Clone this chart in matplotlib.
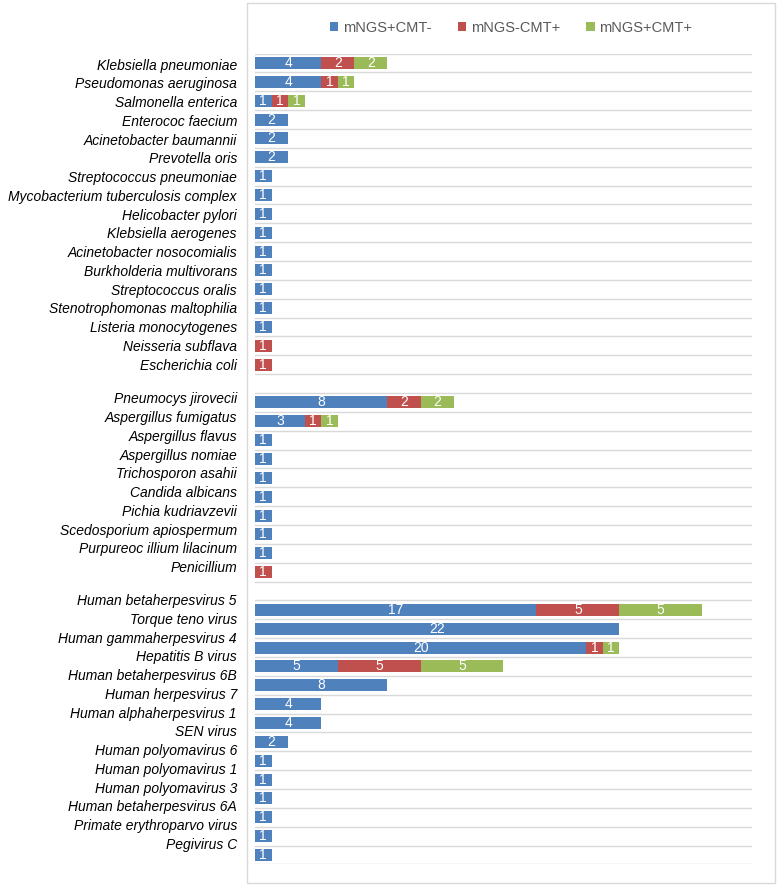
#horizontal stacked bar chart of pathogens detected by mNGS vs conventional methods (CMT)
import numpy as np
import matplotlib.pyplot as plt
from matplotlib.patches import Rectangle

plt.rcParams["font.family"] = ["Liberation Sans", "DejaVu Sans"]

#pathogen names, grouped (bacteria, fungi, viruses)
bacteria = ["Klebsiella pneumoniae", "Pseudomonas aeruginosa", "Salmonella enterica",
            "Enterococ faecium", "Acinetobacter baumannii", "Prevotella oris",
            "Streptococcus pneumoniae", "Mycobacterium tuberculosis complex",
            "Helicobacter pylori", "Klebsiella aerogenes", "Acinetobacter nosocomialis",
            "Burkholderia multivorans", "Streptococcus oralis",
            "Stenotrophomonas maltophilia", "Listeria monocytogenes",
            "Neisseria subflava", "Escherichia coli"]
fungi = ["Pneumocys jirovecii", "Aspergillus fumigatus", "Aspergillus flavus",
         "Aspergillus nomiae", "Trichosporon asahii", "Candida albicans",
         "Pichia kudriavzevii", "Scedosporium apiospermum",
         "Purpureoc illium lilacinum", "Penicillium"]
viruses = ["Human betaherpesvirus 5", "Torque teno virus", "Human gammaherpesvirus 4",
           "Hepatitis B virus", "Human betaherpesvirus 6B", "Human herpesvirus 7",
           "Human alphaherpesvirus 1", "SEN virus", "Human polyomavirus 6",
           "Human polyomavirus 1", "Human polyomavirus 3", "Human betaherpesvirus 6A",
           "Primate erythroparvo virus", "Pegivirus C"]

#counts per group: mNGS+CMT-, mNGS-CMT+, mNGS+CMT+
bac_pos_neg = [4, 4, 1, 2, 2, 2, 1, 1, 1, 1, 1, 1, 1, 1, 1, 0, 0]
bac_neg_pos = [2, 1, 1, 0, 0, 0, 0, 0, 0, 0, 0, 0, 0, 0, 0, 1, 1]
bac_pos_pos = [2, 1, 1, 0, 0, 0, 0, 0, 0, 0, 0, 0, 0, 0, 0, 0, 0]

fun_pos_neg = [8, 3, 1, 1, 1, 1, 1, 1, 1, 0]
fun_neg_pos = [2, 1, 0, 0, 0, 0, 0, 0, 0, 1]
fun_pos_pos = [2, 1, 0, 0, 0, 0, 0, 0, 0, 0]

vir_pos_neg = [17, 22, 20, 5, 8, 4, 4, 2, 1, 1, 1, 1, 1, 1]
vir_neg_pos = [5, 0, 1, 5, 0, 0, 0, 0, 0, 0, 0, 0, 0, 0]
vir_pos_pos = [5, 0, 1, 5, 0, 0, 0, 0, 0, 0, 0, 0, 0, 0]

series_names = ["mNGS+CMT-", "mNGS-CMT+", "mNGS+CMT+"]
colors = ["#4f81bd", "#c0504d", "#9bbb59"]

#put a blank row between groups
gap = [np.nan]
s1 = np.array(bac_pos_neg + gap + fun_pos_neg + gap + vir_pos_neg, dtype=float)
s2 = np.array(bac_neg_pos + gap + fun_neg_pos + gap + vir_neg_pos, dtype=float)
s3 = np.array(bac_pos_pos + gap + fun_pos_pos + gap + vir_pos_pos, dtype=float)
rows = np.arange(len(s1))

W, H = 777, 886
fig = plt.figure(figsize=(W / 100, H / 100), dpi=100)

#outer chart frame
fig.add_artist(Rectangle((247 / W, 3 / H), 528 / W, 880 / H, transform=fig.transFigure,
                         fill=False, edgecolor="#d9d9d9", linewidth=1))

ax_top, ax_bot = 53.6, 864.4
ax = fig.add_axes([255 / W, 1 - ax_bot / H, (751.7 - 255) / W, (ax_bot - ax_top) / H])
ax.set_xlim(0, 30)
ax.set_ylim(len(rows) - 0.5, -0.5)

left = np.zeros(len(rows))
for vals, name, c in zip([s1, s2, s3], series_names, colors):
    v = np.nan_to_num(vals)
    bars = ax.barh(rows, v, left=left, height=0.64, color=c, label=name)
    for r, val, l in zip(rows, v, left):
        if val > 0:
            ax.text(l + val / 2, r, str(int(val)), ha="center", va="center",
                    color="white", fontsize=10)
    left = left + v

#horizontal gridlines between rows
for y in np.arange(-0.5, len(rows), 1):
    ax.axhline(y, color="#d9d9d9", linewidth=1, zorder=0)
for s in ax.spines.values():
    s.set_visible(False)
ax.set_xticks([])
ax.set_yticks([])

#category labels column (slightly different spacing than the bars)
lab_ax = fig.add_axes(ax.get_position(), frameon=False)
lab_pos = (list(np.arange(len(bacteria)))
           + list(17.81 + np.arange(len(fungi)))
           + list(28.57 + np.arange(len(viruses))))
lab_ax.set_ylim((ax_bot - 64) / 18.75, (ax_top - 64) / 18.75)
lab_ax.set_xlim(0, 1)
lab_ax.set_xticks([])
lab_ax.set_yticks(lab_pos)
lab_ax.set_yticklabels(bacteria + fungi + viruses, fontsize=10, style="italic",
                       color="#000000")
lab_ax.tick_params(axis="y", length=0, pad=13)

handles, labels = ax.get_legend_handles_labels()
fig.legend(handles, labels, loc="center", bbox_to_anchor=(511 / W, 1 - 28 / H), ncol=3,
           frameon=False, fontsize=10.5, handlelength=0.6, handleheight=0.6,
           handletextpad=0.3, columnspacing=1.8, labelcolor="#595959")

fig.savefig("out.png", dpi=100)
